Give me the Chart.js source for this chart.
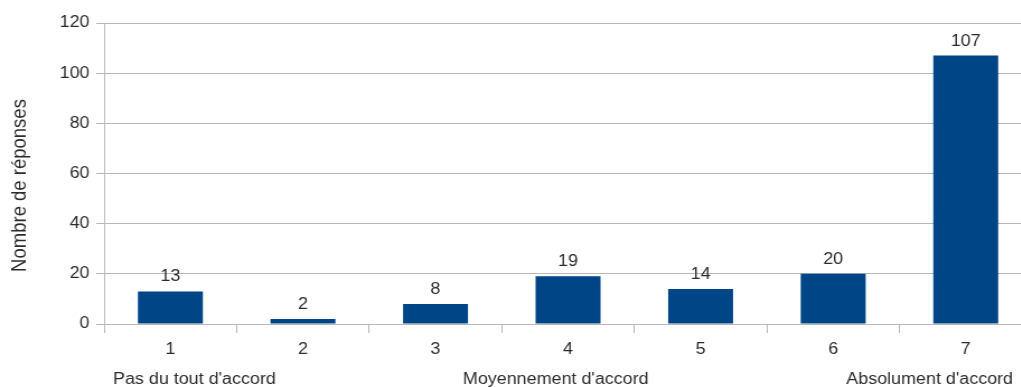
<!DOCTYPE html>
<html><head><meta charset="utf-8">
<script src="https://cdn.jsdelivr.net/npm/chart.js@4"></script>
<style>
html,body{margin:0;padding:0;background:#fff;overflow:hidden;width:1021px;height:387px}
canvas{display:block}
</style></head>
<body><canvas id="c" width="922" height="387" style="width:1032px;height:387px"></canvas>
<script>
const categories = ["1","2","3","4","5","6","7"];
const values = [13, 2, 8, 19, 14, 20, 107];
const scaleLabels = ["Pas du tout d'accord","","","Moyennement d'accord","","","Absolument d'accord"];
const yMin = 0, yMax = 120, yStep = 20;
const yTitle = "Nombre de réponses";

const FONT = "'Liberation Sans', Arial, sans-serif";
const TEXT = "#2b2b2b";
const GRID = "#b8b8b8";

const valueLabels = {
  id: 'valueLabels',
  afterDatasetsDraw(chart) {
    const ctx = chart.ctx;
    const meta = chart.getDatasetMeta(0);
    ctx.save();
    ctx.font = "16px " + FONT;
    ctx.fillStyle = TEXT;
    ctx.textAlign = 'center';
    ctx.textBaseline = 'alphabetic';
    meta.data.forEach((bar, i) => {
      ctx.fillText(String(values[i]), bar.x, bar.y - 10);
    });
    ctx.restore();
  }
};

const secondLine = {
  id: 'secondLine',
  afterDraw(chart) {
    const ctx = chart.ctx;
    const xs = chart.scales.x;
    const half = (xs.getPixelForValue(1) - xs.getPixelForValue(0)) / 2;
    const last = scaleLabels.length - 1;
    ctx.save();
    ctx.font = "16px " + FONT;
    ctx.fillStyle = TEXT;
    ctx.textBaseline = 'alphabetic';
    scaleLabels.forEach((t, i) => {
      if (!t) return;
      const px = xs.getPixelForValue(i);
      let x;
      if (i === 0) { ctx.textAlign = 'left'; x = px - half + 8; }
      else if (i === last) { ctx.textAlign = 'right'; x = px + half - 17; }
      else { ctx.textAlign = 'center'; x = px - 11; }
      ctx.fillText(t, x, 383.5);
    });
    // y-axis title
    const ys = chart.scales.y;
    ctx.translate(18, (ys.top + ys.bottom) / 2 + 12);
    ctx.rotate(-Math.PI / 2);
    ctx.font = "18.5px " + FONT;
    ctx.textAlign = 'center';
    ctx.textBaseline = 'middle';
    ctx.fillText(yTitle, 0, 0);
    ctx.restore();
  }
};

new Chart(document.getElementById('c'), {
  type: 'bar',
  data: {
    labels: categories,
    datasets: [{
      data: values,
      backgroundColor: '#004586',
      borderWidth: 0,
      barPercentage: 0.49,
      categoryPercentage: 1.0
    }]
  },
  options: {
    responsive: false,
    devicePixelRatio: 1,
    animation: false,
    layout: { padding: { top: 23, right: 0, bottom: 0, left: 0 } },
    plugins: { legend: { display: false }, tooltip: { enabled: false } },
    scales: {
      x: {
        afterFit(scale) { scale.height = 63; },
        grid: { display: true, drawOnChartArea: false, drawTicks: true, tickLength: 9, color: GRID, offset: true },
        border: { display: true, color: GRID },
        ticks: { color: TEXT, font: { family: FONT, size: 16 }, padding: 7, maxRotation: 0 }
      },
      y: {
        min: yMin, max: yMax,
        afterFit(scale) { scale.width = 93; },
        grid: { color: GRID, tickLength: 7, drawTicks: true },
        border: { display: true, color: GRID },
        ticks: { stepSize: yStep, color: TEXT, font: { family: FONT, size: 16 }, padding: 6 },
        title: { display: false, text: yTitle }
      }
    }
  },
  plugins: [valueLabels, secondLine]
});
</script>
</body></html>
